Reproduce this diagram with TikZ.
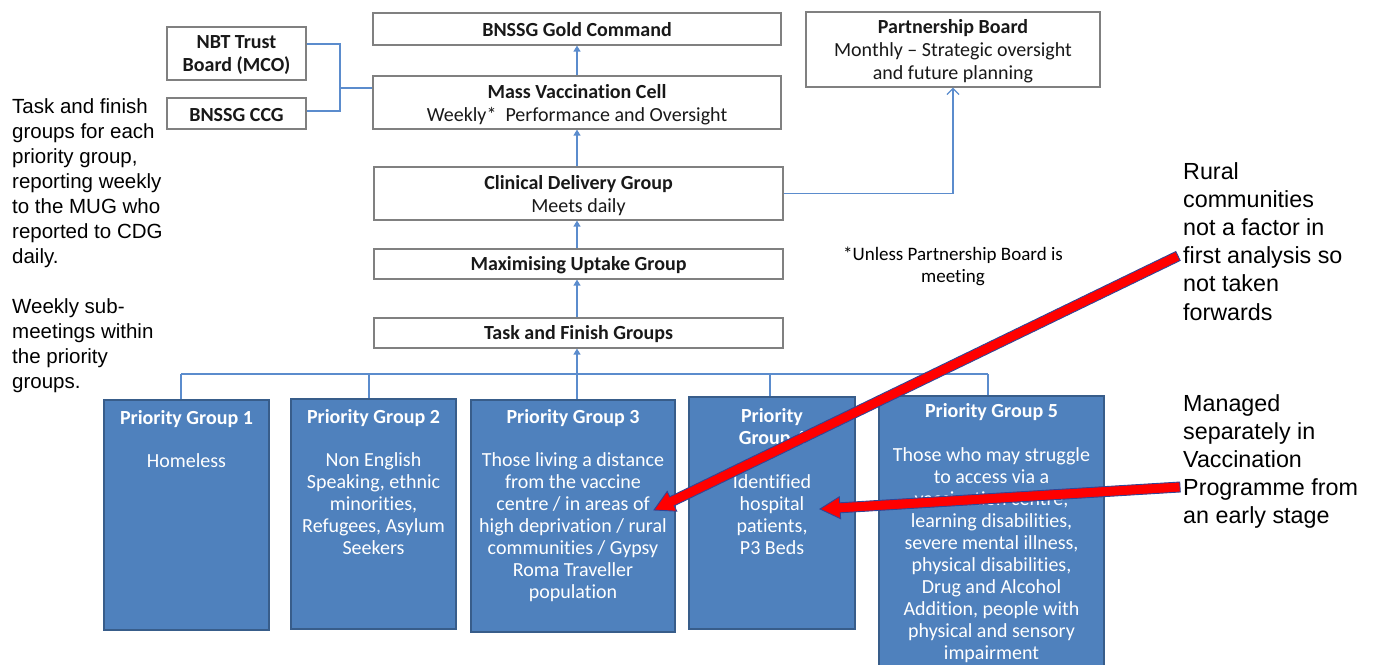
\documentclass[tikz,border=0pt]{standalone}
\usepackage{fontspec}
\setmainfont{Carlito}[Ligatures={NoCommon,NoRare},Contextuals={NoAlternate}]
\newfontfamily\arialfont{Liberation Sans}
\usetikzlibrary{arrows.meta,calc}
\definecolor{pgblue}{RGB}{79,129,189}
\definecolor{pgborder}{RGB}{56,93,138}
\definecolor{connblue}{RGB}{91,140,205}
\definecolor{boxgray}{RGB}{128,128,128}
\definecolor{arrowedge}{RGB}{50,70,150}
\begin{document}
\begin{tikzpicture}[x=1pt,y=-1pt,
  topbox/.style={draw=boxgray, line width=1.2pt, fill=white, inner sep=0pt,
    font=\fontsize{20}{23}\selectfont, align=center, text=black!90},
  toptext/.style={font=\fontsize{20}{23}\selectfont, align=center, text=black!90,
    inner sep=0pt},
  pgbox/.style={draw=pgborder, fill=pgblue, line width=1.8pt, inner sep=0pt},
  pgtext/.style={text=white, font=\fontsize{20}{22}\selectfont, align=center,
    inner sep=0pt, anchor=north},
  conn/.style={draw=connblue, line width=1.3pt},
  uparrow/.style={conn, -{Triangle[length=6pt,width=7pt]}},
  barb/.style={conn, -{Straight Barb[length=6pt,width=12pt]}},
  sidetext/.style={font=\arialfont\fontsize{20.5}{25}\selectfont, align=left,
    inner sep=0pt, anchor=north west, text=black},
  righttext/.style={font=\arialfont\fontsize{23.3}{28.2}\selectfont, align=left,
    inner sep=0pt, anchor=north west, text=black},
  redarrow/.style={fill=red, draw=arrowedge, line width=0.9pt, line join=miter}
]
\useasboundingbox (0,0) rectangle (1375,664);

% top boxes
\node[topbox, minimum width=139pt, minimum height=53pt] (nbt) at (236.5,53.5) {};
\node[toptext] (nbtt) at (236.5,55.5) {\textbf{NBT Trust}\\\textbf{Board (MCO)}};
\node[topbox, minimum width=139pt, minimum height=31pt] (ccg) at (236.5,113.5) {};
\node[toptext] (ccgt) at (236.5,115) {\textbf{BNSSG CCG}};
\node[topbox, minimum width=408pt, minimum height=32pt] (gold) at (577,29) {};
\node[toptext] (goldt) at (577,30) {\textbf{BNSSG Gold Command}};
\node[topbox, minimum width=408pt, minimum height=53pt] (mvc) at (577,102.5) {};
\node[toptext] (mvct) at (577,104.5) {\textbf{Mass Vaccination Cell}\\Weekly*~ Performance and Oversight};
\node[topbox, minimum width=294pt, minimum height=75pt] (pb) at (953,49.5) {};
\node[toptext] (pbt) at (953,51.5) {\textbf{Partnership Board}\\Monthly -- Strategic oversight\\and future planning};
\node[topbox, minimum width=409pt, minimum height=53pt] (cdg) at (578.5,193.5) {};
\node[toptext] (cdgt) at (578.5,196) {\textbf{Clinical Delivery Group}\\Meets daily};
\node[topbox, minimum width=409pt, minimum height=30pt] (mug) at (578.5,264) {};
\node[toptext] (mugt) at (578.5,265) {\textbf{Maximising Uptake Group}};
\node[topbox, minimum width=409pt, minimum height=30pt] (tfg) at (578.5,333) {};
\node[toptext] (tfgt) at (578.5,334) {\textbf{Task and Finish Groups}};

% note
\node[font=\fontsize{19}{22}\selectfont, align=center, inner sep=0pt, anchor=north] (note) at (953,247) {*Unless Partnership Board is\\meeting};

% NBT / CCG connector
\coordinate (jn) at (340,44);
\coordinate (jc) at (340,111);
\coordinate (jm) at (340,88);
\draw[conn] (nbt.east |- jn) -- (jn) -- (jc) -- (ccg.east |- jc);
\draw[conn] (jm) -- (mvc.west |- jm);

% vertical arrows
\coordinate (ax) at (577,0);
\draw[uparrow] (mvc.north -| ax) -- (gold.south -| ax);
\draw[uparrow] (cdg.north -| ax) -- (mvc.south -| ax);
\draw[uparrow] (mug.north -| ax) -- (cdg.south -| ax);
\draw[uparrow] (tfg.north -| ax) -- (mug.south -| ax);
\draw[barb] (cdg.east) -| (pb.south);

% priority group boxes
\node[pgbox, minimum width=165pt, minimum height=230pt] (pg1) at (186.5,515) {};
\node[pgbox, minimum width=165pt, minimum height=230pt] (pg2) at (373.5,514) {};
\node[pgbox, minimum width=204pt, minimum height=232pt] (pg3) at (573,516) {};
\node[pgbox, minimum width=166pt, minimum height=232pt] (pg4) at (772,513) {};
\node[pgbox, minimum width=225pt, minimum height=290pt] (pg5) at (991.5,541) {};

\node[pgtext] (t1) at ($(pg1.north)+(0,11.5)$) {\textbf{Priority Group 1}\\[21pt]Homeless};
\node[pgtext] (t2) at ($(pg2.north)+(0,11.5)$) {\textbf{Priority Group 2}\\[21pt]Non English\\Speaking, ethnic\\minorities,\\Refugees, Asylum\\Seekers};
\node[pgtext] (t3) at ($(pg3.north)+(0,10.5)$) {\textbf{Priority Group 3}\\[21pt]Those living a distance\\from the vaccine\\centre / in areas of\\high deprivation / rural\\communities / Gypsy\\Roma Traveller\\population};
\node[pgtext] (t4) at ($(pg4.north)+(0,12.5)$) {\textbf{Priority}\\\textbf{Group 4}\\[22pt]Identified\\hospital\\patients,\\P3 Beds};
\node[pgtext] (t5) at ($(pg5.north)+(0,8.5)$) {\textbf{Priority Group 5}\\[22pt]Those who may struggle\\to access via a\\vaccination centre,\\learning disabilities,\\severe mental illness,\\physical disabilities,\\Drug and Alcohol\\Addition, people with\\physical and sensory\\impairment};

% bus
\coordinate (b1) at (181,374);
\coordinate (b2) at (369,374);
\coordinate (b3) at (577,374);
\coordinate (b4) at (770,374);
\coordinate (b5) at (988,374);
\draw[conn] (b1) -- (b5);
\draw[conn] (b1) -- (b1 |- pg1.north);
\draw[conn] (b2) -- (b2 |- pg2.north);
\draw[conn] (b3) -- (b3 |- pg3.north);
\draw[conn] (b4) -- (b4 |- pg4.north);
\draw[conn] (b5) -- (b5 |- pg5.north);
\draw[uparrow] (b3) -- (tfg.south -| b3);

% side texts
\node[sidetext] (left) at (12,98) {Task and finish\\groups for each\\priority group,\\reporting weekly\\to the MUG who\\reported to CDG\\daily.\\[25pt]Weekly sub-\\meetings within\\the priority\\groups.};
\node[righttext] (rural) at (1183,162) {Rural\\communities\\not a factor in\\first analysis so\\not taken\\forwards};
\node[righttext] (managed) at (1183,394) {Managed\\separately in\\Vaccination\\Programme from\\an early stage};

% red arrows
\coordinate (r1s) at (1178,256);
\coordinate (r1t) at (654,510);
\coordinate (r2s) at (1180,487);
\coordinate (r2t) at (820,509);
\foreach \s/\t in {r1s/r1t, r2s/r2t}{
  \coordinate (hb) at ($(\t)!20pt!(\s)$);
  \draw[redarrow] (\t) -- ($(hb)!11pt!90:(\s)$) -- ($(hb)!5pt!90:(\s)$)
    -- ($(\s)!5pt!-90:(hb)$) -- ($(\s)!5pt!90:(hb)$)
    -- ($(hb)!5pt!-90:(\s)$) -- ($(hb)!11pt!-90:(\s)$) -- cycle;
}
\end{tikzpicture}
\end{document}
